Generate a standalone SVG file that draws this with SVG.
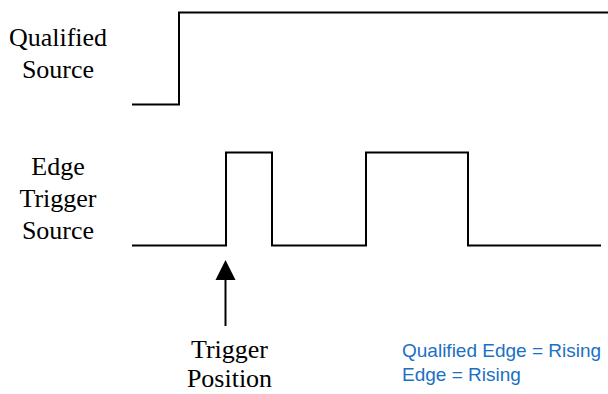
<svg xmlns="http://www.w3.org/2000/svg" width="608" height="394" viewBox="0 0 608 394">
<defs>
<style>
.lbl{font-family:"Liberation Serif","Times New Roman",serif;font-size:26px;fill:#000;text-anchor:middle}
.note{font-family:"Liberation Sans",Arial,sans-serif;font-size:19px;fill:#1b70c4}
.wave{fill:none;stroke:#000;stroke-width:2;stroke-linejoin:miter}
</style>
</defs>
<rect width="608" height="394" fill="#fff"/>
<g id="qualified-source">
<text class="lbl" x="58" y="46">Qualified</text>
<text class="lbl" x="58" y="78">Source</text>
<polyline class="wave" points="132,104.5 179,104.5 179,12.5 608,12.5"/>
</g>
<g id="edge-trigger-source">
<text class="lbl" x="58" y="175">Edge</text>
<text class="lbl" x="58" y="207">Trigger</text>
<text class="lbl" x="58" y="239">Source</text>
<polyline class="wave" points="132,245.5 226,245.5 226,152.5 272,152.5 272,245.5 366,245.5 366,152.5 468,152.5 468,245.5 601,245.5"/>
</g>
<g id="trigger-position">
<text class="lbl" x="229.5" y="358">Trigger</text>
<text class="lbl" x="229.5" y="387">Position</text>
</g>
<g id="settings">
<text class="note" x="402" y="357">Qualified Edge = Rising</text>
<text class="note" x="402" y="381">Edge = Rising</text>
</g>
<g id="connectors">
<line x1="225.5" y1="326" x2="225.5" y2="278" stroke="#000" stroke-width="2"/>
<polygon points="225.5,260 215.5,280 235.5,280" fill="#000"/>
</g>
</svg>
